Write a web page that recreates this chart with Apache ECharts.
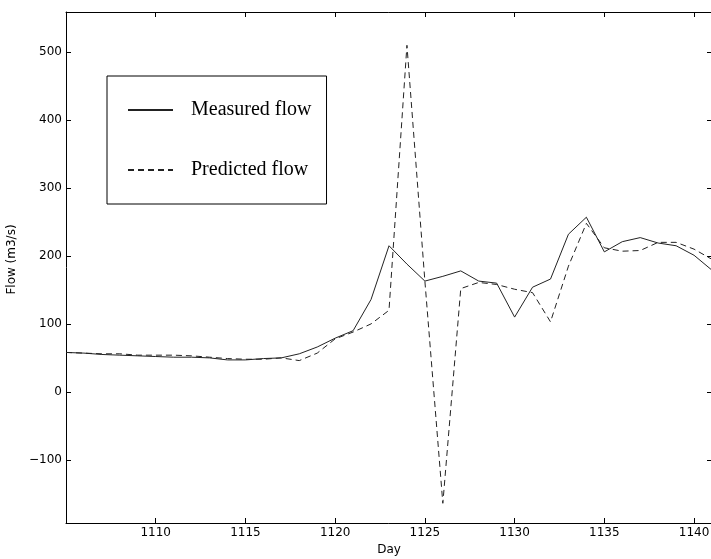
<!DOCTYPE html>
<html>
<head>
<meta charset="utf-8">
<script src="https://cdn.jsdelivr.net/npm/echarts@6/dist/echarts.min.js"></script>
<style>
html,body{margin:0;padding:0;background:#fff;}
#chart{width:711px;height:559px;}
</style>
</head>
<body>
<div id="chart"></div>
<script>
var days = [1105,1106,1107,1108,1109,1110,1111,1112,1113,1114,1115,1116,1117,1118,1119,1120,1121,1122,1123,1124,1125,1126,1127,1128,1129,1130,1131,1132,1133,1134,1135,1136,1137,1138,1139,1140,1141];
var measured = [58,57,55,54,53,52,51,51,50,47,47,49,50,56,66,79,90,136,215,188,163,170,178,163,160,110,154,166,232,257,206,221,227,219,215,201,179];
var predicted = [58,57,56,56,54,54,54,53,51,49,48,48,50,46,57,78,88,100,120,510,163,-164,152,161,158,151,146,103,185,248,212,207,208,220,220,210,195];
var xTicks = [1110,1115,1120,1125,1130,1135,1140];
var yTicks = [-100,0,100,200,300,400,500];

function pairs(xs, ys){ return xs.map(function(x,i){ return [x, ys[i]]; }); }
function plain(v){ return String(v).replace('-', '\u2212'); }

var tickFont = {fontFamily: 'DejaVu Sans', fontSize: 12, color: '#000'};
var axisCommon = {
  axisLine: {show: true, onZero: false, lineStyle: {color: '#000', width: 1}},
  splitLine: {show: false}
};
var chart = echarts.init(document.getElementById('chart'), null, {renderer: 'canvas'});
chart.setOption({
  animation: false,
  backgroundColor: '#fff',
  grid: {left: 66, top: 12, width: 646, height: 511, containLabel: false, outerBoundsMode: 'none'},
  legend: {
    orient: 'vertical', left: 107, top: 76,
    padding: [24, 15, 24, 20],
    itemWidth: 45, itemHeight: 14, itemGap: 40,
    borderColor: '#000', borderWidth: 1,
    backgroundColor: '#fff',
    itemStyle: {color: 'transparent', borderColor: 'transparent', borderWidth: 0},
    textStyle: {fontFamily: 'Liberation Serif', fontSize: 20, color: '#000', lineHeight: 18, padding: [0,0,0,13]},
    data: ['Measured flow', 'Predicted flow']
  },
  xAxis: [
    Object.assign({}, axisCommon, {
      type: 'value', min: 1105, max: 1141, position: 'bottom',
      name: 'Day', nameLocation: 'middle', nameGap: 18,
      nameTextStyle: tickFont,
      axisTick: {show: true, inside: true, length: 5, customValues: xTicks, lineStyle: {color: '#000'}},
      axisLabel: Object.assign({show: true, customValues: xTicks, margin: 4, formatter: plain}, tickFont)
    }),
    Object.assign({}, axisCommon, {
      type: 'value', min: 1105, max: 1141, position: 'top',
      axisTick: {show: true, inside: true, length: 5, customValues: xTicks, lineStyle: {color: '#000'}},
      axisLabel: {show: false}
    })
  ],
  yAxis: [
    Object.assign({}, axisCommon, {
      type: 'value', min: -193, max: 559, position: 'left',
      name: 'Flow (m3/s)', nameLocation: 'middle', nameGap: 36, nameRotate: 90,
      nameTextStyle: Object.assign({padding: [0,0,0,16]}, tickFont),
      axisTick: {show: true, inside: true, length: 5, customValues: yTicks, lineStyle: {color: '#000'}},
      axisLabel: Object.assign({show: true, customValues: yTicks, margin: 4, formatter: plain}, tickFont)
    }),
    Object.assign({}, axisCommon, {
      type: 'value', min: -193, max: 559, position: 'right',
      axisTick: {show: true, inside: true, length: 5, customValues: yTicks, lineStyle: {color: '#000'}},
      axisLabel: {show: false}
    })
  ],
  series: [
    {
      name: 'Measured flow', type: 'line', xAxisIndex: 0, yAxisIndex: 0,
      symbol: 'none', data: pairs(days, measured),
      lineStyle: {color: '#222', width: 1, type: 'solid'},
      itemStyle: {color: '#222'}
    },
    {
      name: 'Predicted flow', type: 'line', xAxisIndex: 0, yAxisIndex: 0,
      symbol: 'none', data: pairs(days, predicted),
      lineStyle: {color: '#222', width: 1, type: [6, 4]},
      itemStyle: {color: '#222'}
    }
  ]
});
</script>
</body>
</html>
